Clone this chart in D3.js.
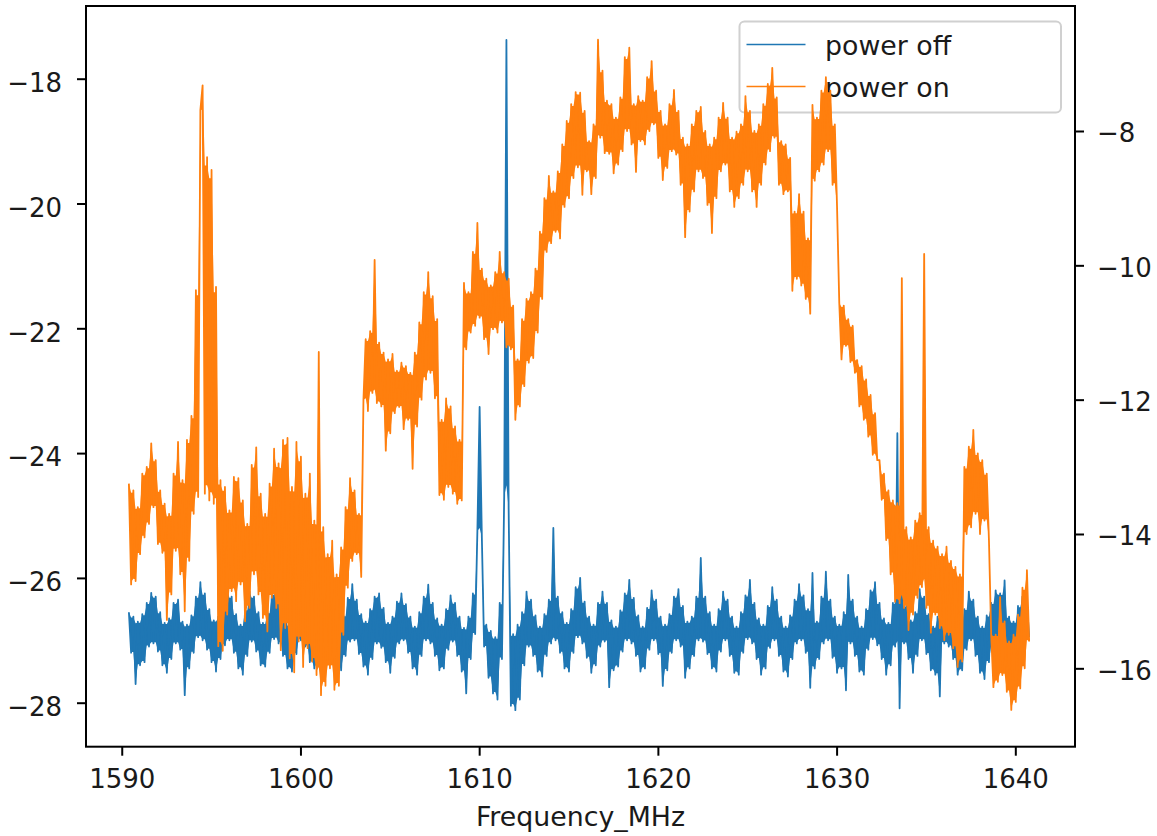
<!DOCTYPE html>
<html><head><meta charset="utf-8">
<script src="https://cdn.jsdelivr.net/npm/d3@7"></script>
<style>body{margin:0;background:#fff;} svg{display:block;}</style>
</head><body>
<svg id="chart" width="1157" height="836"></svg>
<script>
// ---- data ----
const freqStart = 1590.4;   // MHz, first sample
const freqStep = 0.125;     // MHz between samples
const seriesNames = ["power off", "power on"];
const seriesColors = ["#1f77b4", "#ff7f0e"];
const xTicks = [1590, 1600, 1610, 1620, 1630, 1640];
const leftTicks = [-28, -26, -24, -22, -20, -18];
const rightTicks = [-16, -14, -12, -10, -8];
const xLabel = "Frequency_MHz";

// power off (left axis)
const powerOff = [
-26.55,-27.20,-26.62,-27.70,-26.70,-27.40,-26.58,-27.35,-26.40,-27.10,
-26.24,-27.05,-26.30,-27.18,-26.55,-27.40,-26.72,-27.52,-26.65,-27.30,
-26.40,-27.05,-26.35,-27.15,-26.70,-27.88,-26.75,-27.45,-26.60,-27.20,
-26.30,-26.95,-26.07,-27.00,-26.25,-27.15,-26.50,-27.35,-26.68,-27.50,
-26.62,-27.30,-26.38,-27.08,-26.15,-27.00,-26.30,-27.20,-26.58,-27.45,
-26.75,-27.55,-26.50,-27.25,-26.22,-27.02,-26.30,-27.18,-26.55,-27.40,
-26.72,-27.42,-26.55,-27.20,-26.25,-26.98,-26.03,-27.05,-26.35,-27.25,
-26.60,-27.45,-26.75,-27.50,-26.55,-27.22,-26.28,-27.00,-26.20,-27.10,
-26.45,-27.35,-26.70,-27.45,-26.62,-27.40,-26.35,-27.10,-26.12,-26.98,
-26.30,-27.15,-26.55,-27.40,-26.75,-27.48,-26.60,-27.25,-26.32,-27.02,
-26.10,-27.00,-26.35,-27.22,-26.58,-27.42,-26.70,-27.55,-26.50,-27.30,
-26.30,-27.05,-26.25,-27.12,-26.48,-27.35,-26.72,-27.52,-26.62,-27.28,
-26.38,-27.05,-26.25,-27.00,-26.42,-27.20,-26.62,-27.45,-26.78,-27.55,
-26.55,-27.25,-26.30,-27.00,-26.11,-27.05,-26.40,-27.25,-26.65,-27.48,
-26.75,-27.45,-26.50,-27.15,-26.28,-27.02,-26.40,-27.25,-26.62,-27.50,
-26.80,-27.85,-26.62,-27.30,-26.25,-26.90,-25.25,-23.26,-25.35,-27.10,
-26.75,-27.60,-26.85,-27.85,-26.95,-27.95,-26.40,-27.30,-24.70,-17.38,
-24.90,-28.05,-26.90,-28.12,-26.75,-27.95,-26.55,-27.40,-26.22,-27.10,
-26.35,-27.25,-26.60,-27.50,-26.78,-27.58,-26.58,-27.25,-26.35,-27.05,
-25.20,-27.00,-26.30,-27.20,-26.55,-27.45,-26.72,-27.50,-26.50,-27.20,
-26.15,-26.95,-26.00,-27.05,-26.38,-27.28,-26.62,-27.52,-26.75,-27.40,
-26.40,-27.10,-26.22,-27.02,-26.40,-27.75,-26.68,-27.48,-26.78,-27.42,
-26.52,-27.18,-26.25,-27.00,-26.03,-27.05,-26.32,-27.25,-26.60,-27.50,
-26.78,-27.45,-26.48,-27.15,-26.20,-27.00,-26.35,-27.22,-26.62,-27.73,
-26.75,-27.48,-26.58,-27.20,-26.30,-27.00,-26.18,-27.10,-26.45,-27.60,
-26.70,-27.45,-26.62,-27.25,-26.30,-27.00,-25.68,-27.02,-26.30,-27.22,
-26.55,-27.45,-26.75,-27.50,-26.50,-27.18,-26.22,-27.00,-26.35,-27.25,
-26.62,-27.52,-26.78,-27.55,-26.55,-27.20,-26.28,-26.98,-26.03,-27.05,
-26.40,-27.30,-26.65,-27.55,-26.75,-27.45,-26.45,-27.12,-26.15,-27.00,
-26.35,-27.25,-26.62,-27.50,-26.78,-27.58,-26.60,-27.30,-26.35,-27.05,
-26.10,-27.00,-26.28,-27.20,-26.50,-27.76,-25.92,-27.45,-26.70,-27.30,
-26.30,-27.05,-25.90,-27.00,-26.35,-27.28,-26.62,-27.52,-26.75,-27.45,
-26.55,-27.80,-25.95,-27.05,-26.35,-27.25,-26.62,-27.50,-26.78,-27.55,
-26.50,-27.15,-26.20,-26.98,-26.07,-27.08,-26.40,-27.30,-26.65,-27.55,
-26.72,-27.40,-26.40,-27.10,-23.68,-28.09,-26.25,-27.05,-26.45,-27.30,
-26.68,-27.52,-26.55,-27.25,-26.18,-27.00,-26.30,-27.22,-26.58,-27.48,
-26.78,-27.55,-26.62,-27.90,-26.25,-27.05,-26.15,-27.10,-26.40,-27.30,
-26.65,-27.55,-26.78,-27.48,-26.50,-27.15,-26.22,-27.00,-26.35,-27.25,
-26.62,-27.52,-26.78,-27.62,-26.60,-27.35,-26.40,-27.10,-26.20,-27.00,
-26.25,-27.15,-26.04,-27.30,-26.62,-27.50,-26.70,-27.40,-26.45,-27.20,
-26.30,-27.05,-26.40,-26.95
];

// power on (right axis)
const powerOn = [
-13.25,-14.75,-13.35,-14.70,-13.60,-14.30,-13.10,-14.05,-13.00,-13.85,
-12.65,-13.60,-12.90,-14.15,-13.35,-14.28,-13.55,-15.28,-13.70,-14.90,
-13.10,-14.25,-12.63,-14.60,-13.20,-15.15,-12.60,-14.40,-12.24,-13.70,
-10.37,-13.45,-7.69,-7.32,-13.40,-8.39,-13.50,-8.58,-13.55,-10.32,
-15.67,-13.20,-15.74,-13.30,-15.20,-13.65,-14.85,-13.15,-15.00,-13.17,
-14.75,-13.50,-15.30,-13.85,-15.10,-12.97,-14.60,-12.71,-14.90,-13.40,
-15.25,-13.70,-15.45,-13.25,-14.95,-12.73,-15.10,-12.95,-15.73,-12.60,
-15.40,-12.57,-15.85,-13.30,-16.06,-12.63,-15.60,-12.85,-15.98,-13.40,
-15.70,-13.10,-15.90,-13.80,-16.10,-11.29,-16.40,-13.90,-16.26,-14.30,
-16.00,-14.10,-16.32,-14.60,-16.26,-14.20,-15.50,-13.60,-14.80,-13.17,
-14.40,-13.35,-14.30,-13.70,-14.64,-12.00,-11.10,-12.17,-10.98,-11.90,
-9.92,-12.05,-11.15,-12.10,-11.30,-12.76,-11.40,-12.50,-11.32,-12.20,
-11.57,-12.11,-11.45,-12.44,-11.50,-12.30,-11.60,-13.03,-11.30,-12.40,
-10.85,-12.00,-10.40,-11.70,-10.10,-11.60,-10.46,-11.98,-10.80,-13.42,
-12.30,-13.49,-11.98,-13.30,-12.10,-13.40,-12.40,-13.55,-12.60,-13.50,
-10.26,-11.25,-10.40,-11.00,-9.80,-10.90,-9.37,-10.78,-10.05,-11.10,
-10.20,-11.32,-10.30,-10.95,-10.10,-11.00,-9.80,-10.85,-10.10,-11.22,
-10.20,-11.25,-10.60,-12.30,-11.40,-12.10,-10.80,-11.80,-10.50,-11.45,
-10.40,-11.38,-10.05,-11.00,-9.50,-10.50,-9.00,-9.80,-8.67,-9.67,
-8.90,-9.50,-8.60,-9.60,-8.20,-9.13,-7.85,-9.00,-7.60,-8.70,
-7.42,-8.54,-7.43,-8.95,-7.70,-8.60,-8.15,-8.94,-7.90,-8.70,
-6.64,-8.10,-7.10,-8.33,-7.55,-8.34,-7.60,-8.63,-7.80,-8.50,
-7.50,-8.30,-6.90,-8.00,-6.76,-8.20,-7.60,-8.61,-7.48,-8.15,
-7.55,-8.20,-7.20,-8.00,-6.96,-7.90,-7.40,-8.40,-7.70,-8.73,
-7.90,-8.55,-7.60,-8.30,-7.39,-8.35,-7.70,-8.80,-8.10,-9.58,
-8.20,-9.20,-7.90,-8.90,-7.70,-8.60,-7.64,-8.70,-8.00,-9.10,
-8.20,-9.52,-8.10,-9.00,-7.80,-8.60,-7.58,-8.50,-7.80,-8.90,
-8.10,-9.13,-8.01,-9.00,-7.90,-8.80,-7.48,-8.60,-7.70,-8.90,
-8.00,-9.13,-7.90,-8.80,-7.60,-8.50,-7.30,-8.30,-7.06,-8.10,
-7.50,-8.80,-8.15,-8.94,-8.20,-8.90,-8.40,-10.38,-9.20,-10.20,
-8.94,-10.30,-9.20,-10.50,-9.60,-10.72,-7.61,-8.74,-7.80,-8.60,
-7.40,-8.50,-7.20,-8.30,-7.40,-8.80,-7.90,-9.13,-10.56,-11.40,
-10.60,-11.20,-10.80,-11.44,-10.90,-11.60,-11.41,-12.10,-11.50,-12.30,
-11.70,-12.55,-11.93,-12.82,-12.20,-12.90,-12.90,-13.49,-13.10,-14.09,
-13.35,-14.60,-13.50,-15.01,-13.54,-15.03,-10.19,-15.10,-13.90,-15.43,
-14.05,-15.20,-13.80,-14.95,-13.69,-14.79,-9.83,-15.10,-13.90,-15.47,
-14.10,-15.20,-14.19,-15.40,-14.30,-15.58,-14.19,-15.50,-14.40,-15.70,
-14.49,-15.98,-14.60,-15.90,-13.00,-14.00,-12.70,-13.90,-12.45,-13.70,
-12.80,-14.00,-12.90,-13.80,-13.10,-14.09,-15.50,-16.28,-15.50,-16.20,
-14.94,-16.10,-15.30,-16.35,-15.60,-16.62,-15.50,-16.50,-15.20,-16.30,
-14.80,-16.00,-14.54,-15.60
];

// ---- layout ----
const plot = {left: 86, right: 1075, top: 6, bottom: 746.7};
const FONT = "'DejaVu Sans', sans-serif";
const TEXT = "#1a1a1a";
const DATA_WIDTH = 1.8;

const svg = d3.select("#chart");
const x = d3.scaleLinear().domain([1588.0, 1643.34]).range([plot.left, plot.right]);
const yL = d3.scaleLinear().domain([-28.705, -16.835]).range([plot.bottom, plot.top]);
const yR = d3.scaleLinear().domain([-17.167, -6.139]).range([plot.bottom, plot.top]);
const fmt = d3.format("d");

svg.append("defs").append("clipPath").attr("id", "clip")
  .append("rect").attr("x", plot.left).attr("y", plot.top)
  .attr("width", plot.right - plot.left).attr("height", plot.bottom - plot.top);

const freqOf = i => freqStart + i * freqStep;

// local envelope of the trace at each sample (what the dense trace covers)
function envelope(vals, core) {
  const n = vals.length;
  return vals.map((v, i) => {
    const a = vals[Math.max(0, i - 1)], b = vals[Math.min(n - 1, i + 1)];
    const up = Math.min(Math.max(a, v), Math.max(v, b));
    const lo = Math.max(Math.min(a, v), Math.min(v, b));
    const mid = (up + lo) / 2, half = (up - lo) / 2 * core;
    return {i, hi: mid + half, lo: mid - half};
  });
}

function drawSeries(vals, yScale, color, core) {
  const g = svg.append("g").attr("clip-path", "url(#clip)");
  g.append("path")
    .datum(envelope(vals, core))
    .attr("fill", color).attr("stroke", "none")
    .attr("d", d3.area().x(d => x(freqOf(d.i))).y0(d => yScale(d.lo)).y1(d => yScale(d.hi)));
  g.append("path")
    .datum(vals)
    .attr("fill", "none")
    .attr("stroke", color)
    .attr("stroke-width", DATA_WIDTH)
    .attr("stroke-linejoin", "round")
    .attr("d", d3.line().x((d, i) => x(freqOf(i))).y(d => yScale(d)));
}

// power off (left axis)
drawSeries(powerOff, yL, seriesColors[0], 0.95);

// legend (belongs to left axes, so drawn beneath the twin axes line)
const lg = svg.append("g");
lg.append("rect")
  .attr("x", 739.5).attr("y", 21.5).attr("width", 321.5).attr("height", 91)
  .attr("rx", 5).attr("ry", 5)
  .attr("fill", "#fff").attr("fill-opacity", 0.8)
  .attr("stroke", "#d0d0d0").attr("stroke-width", 2);
const legY = [44.5, 86.5];
seriesNames.forEach((name, k) => {
  lg.append("line")
    .attr("x1", 746.5).attr("x2", 805.5)
    .attr("y1", legY[k]).attr("y2", legY[k])
    .attr("stroke", seriesColors[k]).attr("stroke-width", 1.5);
  lg.append("text")
    .attr("x", 825).attr("y", legY[k] + 10.3)
    .attr("font-family", FONT).attr("font-size", 26.8)
    .attr("fill", TEXT).text(name);
});

// power on (right axis, twin axes drawn on top)
drawSeries(powerOn, yR, seriesColors[1], 0.95);

// frame
svg.append("rect")
  .attr("x", plot.left).attr("y", plot.top)
  .attr("width", plot.right - plot.left).attr("height", plot.bottom - plot.top)
  .attr("fill", "none").attr("stroke", "#000").attr("stroke-width", 2);

function styleAxis(g) {
  g.select(".domain").remove();
  g.selectAll(".tick line").attr("stroke", "#000").attr("stroke-width", 2);
  g.selectAll(".tick text").attr("font-family", FONT).attr("font-size", 26).attr("fill", TEXT);
}

// bottom axis
const gx = svg.append("g").attr("transform", `translate(0,${plot.bottom})`)
  .call(d3.axisBottom(x).tickValues(xTicks).tickSize(9).tickFormat(fmt));
styleAxis(gx);
gx.selectAll(".tick text").attr("y", 41).attr("dy", 0);

// left axis
const gl = svg.append("g").attr("transform", `translate(${plot.left},0)`)
  .call(d3.axisLeft(yL).tickValues(leftTicks).tickSize(9).tickPadding(15).tickFormat(fmt));
styleAxis(gl);
gl.selectAll(".tick text").attr("dy", 12.8);

// right axis
const gr = svg.append("g").attr("transform", `translate(${plot.right},0)`)
  .call(d3.axisRight(yR).tickValues(rightTicks).tickSize(9).tickPadding(13).tickFormat(fmt));
styleAxis(gr);
gr.selectAll(".tick text").attr("dy", 11);

// x label
svg.append("text")
  .attr("x", (plot.left + plot.right) / 2).attr("y", 826)
  .attr("text-anchor", "middle")
  .attr("font-family", FONT).attr("font-size", 26.8).attr("fill", TEXT)
  .text(xLabel);
</script>
</body></html>
